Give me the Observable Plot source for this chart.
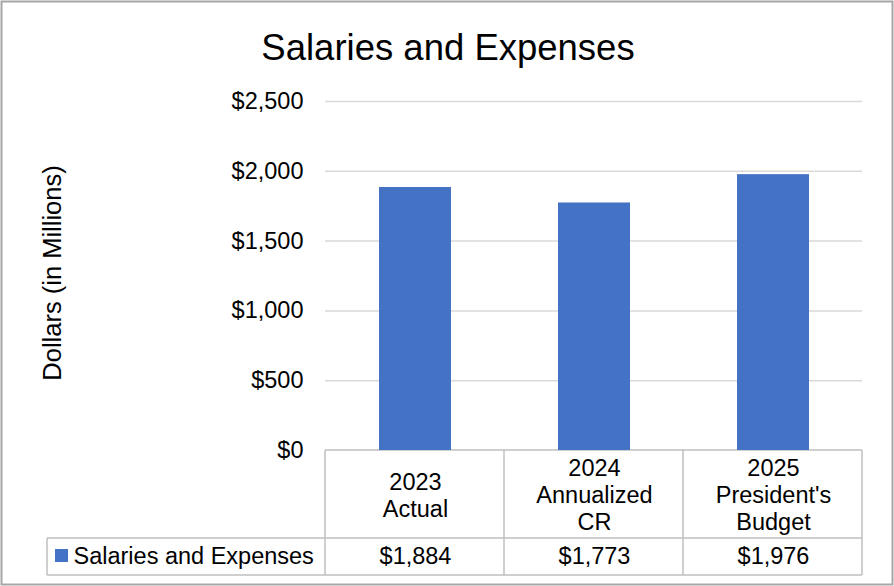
<!DOCTYPE html>
<html>
<head>
<meta charset="utf-8">
<script src="https://cdn.jsdelivr.net/npm/d3@7"></script>
<script src="https://cdn.jsdelivr.net/npm/@observablehq/plot@0.6"></script>
<style>
  html, body { margin: 0; padding: 0; background: #fff; }
  #chart svg { display: block; }
</style>
</head>
<body>
<div id="chart"></div>
<script>
// ---- data ----
const title = "Salaries and Expenses";
const yLabel = "Dollars (in Millions)";
const seriesName = "Salaries and Expenses";
const categories = ["2023\nActual", "2024\nAnnualized\nCR", "2025\nPresident's\nBudget"];
const values = [1884, 1773, 1976];
const yTicks = [0, 500, 1000, 1500, 2000, 2500];

const data = categories.map((c, i) => ({category: c, value: values[i]}));
const fmt = d => "$" + d3.format(",")(d);
const FONT = "'Liberation Sans', Arial, sans-serif";
const W = 894, H = 586;

const plot = Plot.plot({
  width: W,
  height: H,
  marginLeft: 325,
  marginRight: 32,
  marginTop: 101,
  marginBottom: 136,
  style: {fontFamily: FONT, color: "#000", background: "#fff", overflow: "visible"},
  x: {domain: categories, paddingInner: 0.6, paddingOuter: 0.3, axis: null},
  y: {domain: [0, 2500], axis: null},
  marks: [
    Plot.ruleY(yTicks.filter(d => d > 0), {stroke: "#d9d9d9", strokeWidth: 1.5}),
    Plot.barY(data, {x: "category", y: "value", fill: "#4472c4"}),
    Plot.axisY(yTicks, {tickSize: 0, tickPadding: 22, tickFormat: fmt, fontSize: 23.5, label: null, fill: "#000"}),
    // title
    Plot.text([title], {frameAnchor: "top", lineAnchor: "middle", dy: -53, dx: -146, fontSize: 36.5, fill: "#000"}),
    // data table: category labels
    Plot.text(data, {x: "category", y: () => 0, text: "category", dy: 44, fontSize: 23.5, lineHeight: 1.15, fill: "#000"}),
    // data table: values
    Plot.text(data, {x: "category", y: () => 0, text: d => fmt(d.value), dy: 106, fontSize: 23.5, fill: "#000"}),
    // data table: series name
    Plot.text([seriesName], {frameAnchor: "bottom-left", lineAnchor: "middle", dx: -252, dy: 106, textAnchor: "start", fontSize: 23.5, fill: "#000"})
  ]
});

// table grid lines, legend swatch, axis label and frame, positioned from the x scale
const xs = plot.scale("x");
const svg = d3.select(plot);
const [x0, x1] = [xs.range[0], xs.range[1]];
const step = xs.step;
const yTop = H - 136;           // bottom of plotting frame
const rowSep = yTop + 88;
const rowBot = yTop + 125;
const tableLeft = 47;
const g = svg.insert("g", ":first-child");
const lineCol = "#bfbfbf";
const L = (xa, ya, xb, yb) => g.append("line").attr("x1", xa).attr("y1", ya).attr("x2", xb).attr("y2", yb)
  .attr("stroke", lineCol).attr("stroke-width", 1.5);
L(x0, yTop, x1, yTop);
L(tableLeft, rowSep, x1, rowSep);
L(tableLeft, rowBot, x1, rowBot);
L(tableLeft, rowSep, tableLeft, rowBot);
for (let i = 0; i <= categories.length; i++) {
  const xx = x0 + i * step;
  L(xx, yTop, xx, rowBot);
}
g.append("rect").attr("x", 55).attr("y", rowSep + 11).attr("width", 13).attr("height", 13).attr("fill", "#4472c4");
// outer chart border
svg.append("rect").attr("x", 1.5).attr("y", 1.5).attr("width", W - 3).attr("height", H - 3)
  .attr("fill", "none").attr("stroke", "#a6a6a6").attr("stroke-width", 2);
// y axis title
svg.append("text").attr("transform", "translate(61,273) rotate(-90)")
  .attr("text-anchor", "middle").attr("font-size", 25.5).attr("font-family", FONT).attr("fill", "#000")
  .text(yLabel);

document.getElementById("chart").appendChild(plot);
</script>
</body>
</html>
